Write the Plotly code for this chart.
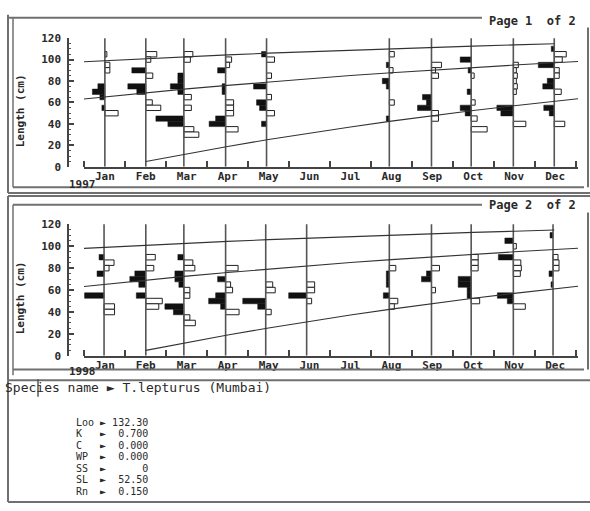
import numpy as np
import plotly.graph_objects as go

W, H = 590, 511

MONTHS = ["Jan", "Feb", "Mar", "Apr", "May", "Jun", "Jul", "Aug", "Sep", "Oct", "Nov", "Dec"]
MONTH_CENTERS = [1, 2, 3, 4, 5, 6, 7, 8, 9, 10, 11, 12]
LENGTH_TICKS = [0, 20, 40, 60, 80, 100, 120]
YEARS = ["1997", "1998"]

# Growth curves (length in cm at month positions)
CURVE_LOW_X = [2, 3, 4, 5, 6, 7, 8, 9, 10, 11, 12, 12.56]
CURVE_LOW_L = [5.0, 12.2, 19.0, 25.4, 31.5, 37.2, 42.6, 47.7, 52.5, 57.0, 61.3, 63.5]
CURVE_MID_X = [0.49, 1, 2, 3, 4, 5, 6, 7, 8, 9, 10, 11, 12, 12.56]
CURVE_MID_L = [63.3, 65.3, 69.1, 72.7, 76.0, 79.2, 82.2, 85.1, 87.8, 90.3, 92.7, 94.9, 97.0, 98.2]
CURVE_TOP_X = [0.49, 1, 2, 3, 4, 5, 6, 7, 8, 9, 10, 11, 11.98]
CURVE_TOP_L = [98.0, 99.0, 100.9, 102.7, 104.4, 106.0, 107.4, 108.9, 110.2, 111.4, 112.6, 113.7, 114.8]

# Restructured length-frequency samples: (length class cm, score)
# positive score = black peak (drawn left), negative = white trough (drawn right)
P1_JAN = [(105, -0.08), (95, -0.2), (90, -0.2), (75, 0.28), (70, 0.5), (65, 0.2), (55, 0.12), (50, -0.53)]
P1_FEB = [(105, -0.44), (100, -0.2), (90, 0.56), (85, -0.28), (75, 0.72), (70, 0.36), (60, -0.26), (55, -0.6)]
P1_MAR = [(105, -0.36), (100, -0.26), (85, 0.24), (80, 0.24), (75, 0.54), (70, 0.24), (65, -0.3), (55, -0.3),
          (45, 1.12), (40, 0.64), (35, -0.4), (30, -0.6)]
P1_APR = [(100, -0.24), (95, -0.16), (90, 0.32), (75, 0.14), (70, 0.14), (60, -0.32), (55, -0.32), (50, -0.32),
          (45, 0.4), (40, 0.66), (35, -0.5)]
P1_MAY = [(105, 0.2), (100, -0.32), (85, -0.2), (75, 0.52), (65, -0.2), (60, 0.4), (55, 0.28), (50, -0.32), (40, 0.2)]
P1_AUG = [(105, -0.2), (95, 0.12), (90, -0.15), (80, 0.28), (75, 0.12), (60, -0.2), (45, 0.12)]
P1_SEP = [(95, -0.4), (90, -0.16), (85, -0.28), (65, 0.36), (60, 0.2), (55, 0.56), (50, -0.28), (45, -0.28)]
P1_OCT = [(100, 0.44), (90, 0.12), (85, -0.12), (70, 0.16), (60, -0.16), (55, 0.44), (50, 0.24), (45, -0.24), (35, -0.64)]
P1_NOV = [(95, -0.2), (90, -0.12), (85, -0.16), (80, -0.12), (75, -0.16), (70, -0.12), (55, 0.66), (50, 0.5), (40, -0.5)]
P1_DEC = [(110, 0.12), (105, -0.48), (100, -0.32), (95, 0.64), (90, -0.2), (85, -0.2), (80, 0.28), (75, 0.46),
          (70, -0.28), (55, 0.42), (50, 0.2), (40, -0.42)]

P2_JAN = [(90, 0.2), (85, -0.4), (80, -0.2), (75, 0.28), (55, 0.78), (45, -0.42), (40, -0.42)]
P2_FEB = [(90, -0.38), (80, -0.32), (75, 0.44), (70, 0.64), (65, 0.28), (55, 0.38), (50, -0.66), (45, -0.52)]
P2_MAR = [(90, 0.24), (85, -0.36), (80, -0.44), (75, 0.36), (70, 0.36), (65, 0.2), (60, -0.24), (55, -0.24),
          (45, 0.76), (40, 0.42), (35, -0.24), (30, -0.46)]
P2_APR = [(80, -0.5), (70, 0.32), (65, -0.2), (60, -0.28), (55, 0.4), (50, 0.68), (45, 0.2), (40, -0.54)]
P2_MAY = [(65, -0.28), (60, -0.38), (50, 0.92), (45, 0.32), (40, -0.22)]
P2_JUN = [(65, -0.32), (60, -0.32), (55, 0.72), (50, -0.2)]
P2_AUG = [(80, -0.26), (75, 0.12), (70, 0.12), (65, 0.12), (55, 0.24), (50, -0.34), (45, -0.2)]
P2_SEP = [(80, -0.32), (75, 0.2), (70, 0.4), (60, -0.16)]
P2_OCT = [(90, -0.28), (85, -0.28), (80, -0.28), (70, 0.52), (65, 0.52), (60, 0.16), (55, 0.16), (50, -0.34)]
P2_NOV = [(105, 0.34), (100, -0.12), (90, 0.6), (85, -0.3), (80, -0.32), (75, -0.28), (55, 0.64), (50, 0.24), (45, -0.48)]
P2_DEC = [(110, 0.12), (90, -0.2), (85, -0.24), (80, -0.24), (75, 0.16), (65, 0.08)]

# sample dates in month units
P1_SAMPLES = [(1.00, P1_JAN), (2.00, P1_FEB), (2.93, P1_MAR), (3.95, P1_APR), (4.95, P1_MAY),
              (7.95, P1_AUG), (8.98, P1_SEP), (9.95, P1_OCT), (10.98, P1_NOV), (11.98, P1_DEC)]
P2_SAMPLES = [(0.98, P2_JAN), (2.00, P2_FEB), (2.93, P2_MAR), (3.95, P2_APR), (4.93, P2_MAY), (5.93, P2_JUN),
              (7.95, P2_AUG), (8.98, P2_SEP), (9.95, P2_OCT), (10.98, P2_NOV), (11.95, P2_DEC)]

SPECIES = "T.lepturus (Mumbai)"
PARAM_NAMES = ["Loo", "K", "C", "WP", "SS", "SL", "Rn"]
PARAM_VALUES = ["132.30", "0.700", "0.000", "0.000", "0", "52.50", "0.150"]

# ---------------- styling ----------------
FONT = "DejaVu Sans Mono"
INK = "#2a2a2a"
FRAME = "#707070"
SCORE_SCALE = 0.61   # months per unit score
CLASS_W = 5          # cm
X_RANGE = [0.49, 12.56]


def px(x):
    return x / W


def py(y):
    return 1 - y / H


fig = go.Figure()


def add_panel(samples, xa, ya):
    vx, vy = [], []
    for d, _ in samples:
        vx += [d, d, None]
        vy += [0, 121, None]
    fig.add_trace(go.Scatter(x=vx, y=vy, mode="lines", line=dict(color="#555", width=1.6),
                             xaxis=xa, yaxis=ya, hoverinfo="skip", showlegend=False))
    for cx, cl in [(CURVE_LOW_X, CURVE_LOW_L), (CURVE_MID_X, CURVE_MID_L), (CURVE_TOP_X, CURVE_TOP_L)]:
        fig.add_trace(go.Scatter(x=cx, y=cl, mode="lines", line=dict(color="#333", width=1.1),
                                 xaxis=xa, yaxis=ya, hoverinfo="skip", showlegend=False))
    bl, bw, bb, wl, ww, wb = [], [], [], [], [], []
    for d, bars in samples:
        for L, s in bars:
            if s > 0:
                bl.append(L); bw.append(-s * SCORE_SCALE); bb.append(d)
            else:
                wl.append(L); ww.append(-s * SCORE_SCALE); wb.append(d)
    fig.add_trace(go.Bar(orientation="h", y=wl, x=ww, base=wb, width=CLASS_W,
                         marker=dict(color="white", line=dict(color="#222", width=1)),
                         xaxis=xa, yaxis=ya, hoverinfo="skip", showlegend=False))
    fig.add_trace(go.Bar(orientation="h", y=bl, x=bw, base=bb, width=CLASS_W,
                         marker=dict(color="#111", line=dict(color="#111", width=0.5)),
                         xaxis=xa, yaxis=ya, hoverinfo="skip", showlegend=False))


add_panel(P1_SAMPLES, "x", "y")
add_panel(P2_SAMPLES, "x2", "y2")

boundaries = [m + 0.5 for m in range(0, 13)]
fine = list(np.arange(0.5, 12.57, 1 / 7))

tickfont = dict(family=FONT, size=11, color=INK, weight="bold")


def xaxis_main(domain, anchor):
    return dict(domain=domain, range=X_RANGE, anchor=anchor, showline=True, linecolor="#444", linewidth=1.5,
                tickvals=MONTH_CENTERS, ticktext=MONTHS, ticks="", showgrid=False, zeroline=False,
                tickfont=tickfont, fixedrange=True, ticklabelstandoff=-2,
                minor=dict(tickvals=boundaries, ticks="inside", ticklen=6, tickwidth=1.5, tickcolor="#444",
                           showgrid=False))


def xaxis_fine(over, anchor):
    return dict(overlaying=over, anchor=anchor, range=X_RANGE, tickvals=fine, ticks="inside", ticklen=3,
                tickwidth=1, tickcolor="#555", showticklabels=False, showline=False, showgrid=False,
                zeroline=False)


def yaxis(domain):
    return dict(domain=domain, range=[0, 120], anchor="free", position=px(68), showline=True, linecolor="#444",
                linewidth=1.5, tickvals=LENGTH_TICKS, ticktext=[str(v) for v in LENGTH_TICKS], ticks="inside",
                ticklen=5, tickwidth=1.5, tickcolor="#444", showgrid=False, zeroline=False, tickfont=tickfont,
                ticklabelstandoff=4,
                minor=dict(dtick=5, ticks="inside", ticklen=2.5, tickwidth=1, tickcolor="#555", showgrid=False))


fig.update_layout(
    width=W, height=H, margin=dict(l=0, r=0, t=0, b=0),
    paper_bgcolor="white", plot_bgcolor="rgba(0,0,0,0)", barmode="overlay", showlegend=False,
    xaxis=xaxis_main([px(84), px(578)], "y"),
    xaxis3=xaxis_fine("x", "y"),
    yaxis=yaxis([py(165), py(33)]),
    xaxis2=xaxis_main([px(84), px(578)], "y2"),
    xaxis4=xaxis_fine("x2", "y2"),
    yaxis2=yaxis([py(359), py(224)]),
)

shapes = []


def hline(y, x0, x1, w=2):
    shapes.append(dict(type="line", xref="paper", yref="paper", x0=px(x0), x1=px(x1), y0=py(y), y1=py(y),
                       line=dict(color=FRAME, width=w)))


def vline(x, y0, y1, w=2):
    shapes.append(dict(type="line", xref="paper", yref="paper", x0=px(x), x1=px(x), y0=py(y0), y1=py(y1),
                       line=dict(color=FRAME, width=w)))


# panel 1
vline(8, 9, 192); vline(13, 12, 186, 1.5); hline(12, 8, 482); hline(186, 13, 584); vline(588, 22, 186)
hline(192, 8, 590)
# panel 2
hline(195, 8, 590); vline(8, 195, 384); vline(13, 204, 379, 1.5); hline(204, 13, 482)
vline(588, 212, 373); hline(373, 13, 584); hline(384, 8, 590)
# text area
vline(8, 384, 509); hline(509, 8, 590)
# text cursor
shapes.append(dict(type="line", xref="paper", yref="paper", x0=px(38), x1=px(38), y0=py(383), y1=py(401),
                   line=dict(color="#555", width=1.5)))
fig.update_layout(shapes=shapes)

ann = []


def text(x, y, s, size, xanchor="left", angle=0, bold=True):
    ann.append(dict(xref="paper", yref="paper", x=px(x), y=py(y), text=s, showarrow=False,
                    xanchor=xanchor, yanchor="middle", textangle=angle, borderpad=0,
                    font=dict(family=FONT, size=size, color=INK, weight="bold" if bold else "normal")))


text(488, 15, "Page 1  of 2", 12)
text(488, 204, "Page 2  of 2", 12)
text(82, 183, YEARS[0], 11, "center")
text(82, 375, YEARS[1], 11, "center")
text(20, 108, "Length (cm)", 11, "center", -90)
text(20, 300, "Length (cm)", 11, "center", -90)
text(4, 391, "Species name \u25ba " + SPECIES, 13, bold=False)
for i, (n, v) in enumerate(zip(PARAM_NAMES, PARAM_VALUES)):
    text(75, 427 + i * 11.8, f"{n:<4}\u25ba {v:>6}", 10, bold=False)
fig.update_layout(annotations=ann)

fig.write_html("out.html", config={"displayModeBar": False},
               post_script="document.body.style.margin='0';document.body.style.overflow='hidden';")
